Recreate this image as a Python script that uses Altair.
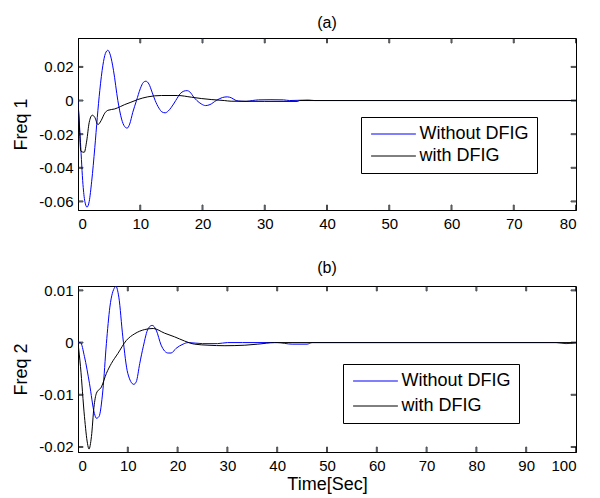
import altair as alt
import pandas as pd

# ---------------- data ----------------
# Panel (a): Freq 1
T1_WITHOUT = [0, 0.4, 0.8, 1.1, 1.45, 1.8, 2.2, 2.7, 3.1, 3.5, 4.0, 4.4, 4.8, 5.2, 5.7, 6.4,
              7.0, 7.5, 7.9, 8.3, 8.8, 9.4, 10.0, 10.5, 10.9, 11.4, 11.9, 12.4, 13.0, 13.5,
              14.0, 14.5, 15.0, 15.7, 16.4, 17.0, 17.5, 18.0, 18.6, 19.1, 19.8, 20.5, 21.2,
              22.2, 23.2, 24.0, 24.7, 25.4, 26.2, 27.0, 28.0, 29.0, 31.0, 33.0, 34.0, 36.0,
              37.0, 38.0, 80.0]
F1_WITHOUT = [0, -0.025, -0.050, -0.060, -0.0634, -0.060, -0.048, -0.028, -0.010, 0.006,
              0.021, 0.028, 0.0299, 0.027, 0.018, 0.000, -0.011, -0.0155, -0.0164, -0.014,
              -0.007, 0.000, 0.007, 0.0108, 0.0115, 0.0098, 0.005, 0.000, -0.0045, -0.0068,
              -0.0073, -0.0062, -0.004, 0.000, 0.004, 0.0056, 0.0059, 0.005, 0.002, 0.000,
              -0.002, -0.003, -0.0024, 0.000, 0.0018, 0.0022, 0.0015, 0.000, -0.0004,
              -0.0005, 0.000, 0.0004, 0.0005, 0.0004, 0.000, 0.0002, 0.0003, 0.000, 0.000]

T1_WITH = [0, 0.2, 0.45, 1.0, 1.4, 1.8, 2.3, 2.7, 3.2, 3.7, 4.3, 4.8, 5.9, 6.8, 7.5, 8.5,
           9.6, 11.2, 13.4, 16.0, 18.2, 19.8, 21.4, 23.5, 24.6, 30.0, 35.3, 35.6, 80.0]
F1_WITH = [0, -0.014, -0.030, -0.0308, -0.024, -0.013, -0.0087, -0.010, -0.0143, -0.012,
           -0.0075, -0.0058, -0.0050, -0.0036, -0.0024, -0.0010, 0.0006, 0.0022, 0.0030,
           0.0030, 0.0020, 0.0012, 0.0006, 0.0000, -0.0004, -0.0005, -0.0005, 0.0000, 0.0000]

# Panel (b): Freq 2
T2_WITHOUT = [0, 0.5, 1.3, 2.3, 3.3, 3.7, 4.2, 5.0, 5.7, 6.4, 7.4, 7.6, 8.2, 9.0, 10.0, 11.2,
              11.7, 12.4, 13.1, 14.1, 14.9, 15.7, 16.7, 18.1, 18.7, 19.7, 21.1, 22.1, 25.0,
              28.0, 30.0, 33.0, 40.0, 43.0, 46.0, 47.0, 96.0, 98.0, 100.0]
F2_WITHOUT = [0, 0.0, -0.0027, -0.0078, -0.0136, -0.0145, -0.0142, -0.0091, -0.0002, 0.0068,
              0.0106, 0.0108, 0.0087, 0.0011, -0.0059, -0.0080, -0.0075, -0.0040, -0.0008,
              0.0027, 0.0033, 0.0024, -0.0005, -0.0020, -0.0020, -0.0011, -0.0003, 0.0000,
              -0.0002, -0.0002, 0.0000, 0.0000, 0.0000, -0.0003, -0.0003, 0.0000, 0.0000,
              -0.0002, 0.0000]

T2_WITH = [0, 0.5, 1.3, 1.9, 2.2, 2.7, 3.2, 3.7, 4.7, 5.7, 6.7, 8.0, 9.7, 11.4, 13.4, 15.1,
           17.4, 19.4, 21.4, 23.4, 26.1, 29.5, 33.5, 36.1, 39.5, 100.0]
F2_WITH = [0, -0.0046, -0.0142, -0.0193, -0.0204, -0.0180, -0.0124, -0.0097, -0.0085,
           -0.0059, -0.0040, -0.0021, 0.0004, 0.0017, 0.0025, 0.0027, 0.0018, 0.0011,
           0.0003, -0.0003, -0.0005, -0.0006, -0.0005, -0.0003, 0.0000, 0.0000]

SERIES = ["Without DFIG", "with DFIG"]
COLORS = ["#0000ff", "#000000"]

X_TICKS_A = [0, 10, 20, 30, 40, 50, 60, 70, 80]
Y_TICKS_A = [-0.06, -0.04, -0.02, 0, 0.02]
X_TICKS_B = [0, 10, 20, 30, 40, 50, 60, 70, 80, 90, 100]
Y_TICKS_B = [-0.02, -0.01, 0, 0.01]

X_DOMAIN_A = [0, 80]
Y_DOMAIN_A = [-0.0651, 0.0372]
X_DOMAIN_B = [0, 100]
Y_DOMAIN_B = [-0.02096, 0.01084]

FONT = "Liberation Sans"
LABEL_EXPR = "datum.value == 0 ? '0' : (datum.value < 0 ? '-' : '') + format(abs(datum.value), '.2f')"


def lines_df(tw, fw, t, f):
    a = pd.DataFrame({"t": tw, "v": fw, "s": SERIES[0]})
    b = pd.DataFrame({"t": t, "v": f, "s": SERIES[1]})
    return pd.concat([a, b], ignore_index=True)


def ticks_df(xticks, yticks, xdom, ydom):
    vert = pd.DataFrame([{"x": x, "y": y} for x in xticks for y in ydom])
    horiz = pd.DataFrame([{"x": x, "y": y} for y in yticks for x in xdom])
    return vert, horiz


def panel(df, xticks, yticks, xdom, ydom, title, ytitle, xtitle, w, h, lx, ly, rowpad):
    xs = alt.Scale(domain=xdom, nice=False, zero=False)
    ys = alt.Scale(domain=ydom, nice=False, zero=False)
    xaxis = alt.Axis(values=xticks, title=xtitle, ticks=False, grid=False, labelPadding=6,
                     titlePadding=2, format="d")
    yaxis = alt.Axis(values=yticks, title=ytitle, ticks=False, grid=False, labelPadding=5,
                     titlePadding=8, labelExpr=LABEL_EXPR)
    lines = alt.Chart(df).mark_line(strokeWidth=1, interpolate="monotone", clip=True).encode(
        x=alt.X("t:Q", scale=xs, axis=xaxis),
        y=alt.Y("v:Q", scale=ys, axis=yaxis),
        stroke=alt.Stroke("s:N", scale=alt.Scale(domain=SERIES, range=COLORS),
                          legend=alt.Legend(orient="none", legendX=lx, legendY=ly, title=None,
                                            strokeColor="black", fillColor="white",
                                            padding=8, symbolType="M-3.2,0L3.2,0",
                                            symbolSize=196, symbolStrokeWidth=1,
                                            symbolOffset=15.5, labelOffset=17,
                                            labelFontSize=18, labelFont=FONT,
                                            labelColor="black", rowPadding=rowpad,
                                            labelLimit=300)),
        order=alt.Order("s:N", sort="descending"),
    )
    vert, horiz = ticks_df(xticks, yticks, xdom, ydom)
    vt = alt.Chart(vert).mark_tick(orient="vertical", size=10, thickness=1, stroke="black",
                                   clip=True).encode(
        x=alt.X("x:Q", scale=xs), y=alt.Y("y:Q", scale=ys))
    ht = alt.Chart(horiz).mark_tick(orient="horizontal", size=10, thickness=1, stroke="black",
                                    clip=True).encode(
        x=alt.X("x:Q", scale=xs), y=alt.Y("y:Q", scale=ys))
    return alt.layer(lines, vt, ht).properties(
        width=w, height=h,
        title=alt.TitleParams(title, fontSize=16, font=FONT, fontWeight="normal",
                              color="black", offset=7),
    )


pa = panel(lines_df(T1_WITHOUT, F1_WITHOUT, T1_WITH, F1_WITH), X_TICKS_A, Y_TICKS_A,
           X_DOMAIN_A, Y_DOMAIN_A, "(a)", "Freq 1", None, 498, 172, 283, 79, 4)
pb = panel(lines_df(T2_WITHOUT, F2_WITHOUT, T2_WITH, F2_WITH), X_TICKS_B, Y_TICKS_B,
           X_DOMAIN_B, Y_DOMAIN_B, "(b)", "Freq 2", "Time[Sec]", 498, 166, 265, 78, 7)

chart = alt.vconcat(pa, pb, spacing=27).resolve_scale(
    stroke="shared", x="independent", y="independent"
).resolve_legend(stroke="independent").properties(
    padding={"left": 4, "top": 6, "right": 5, "bottom": 5}
).configure_view(
    stroke="black", strokeWidth=1
).configure_axis(
    domainColor="black", labelColor="black", titleColor="black",
    labelFont=FONT, titleFont=FONT, labelFontSize=15, titleFontSize=18,
    titleFontWeight="normal"
)

chart.save("out.html", embed_options={"renderer": "svg", "actions": False})
